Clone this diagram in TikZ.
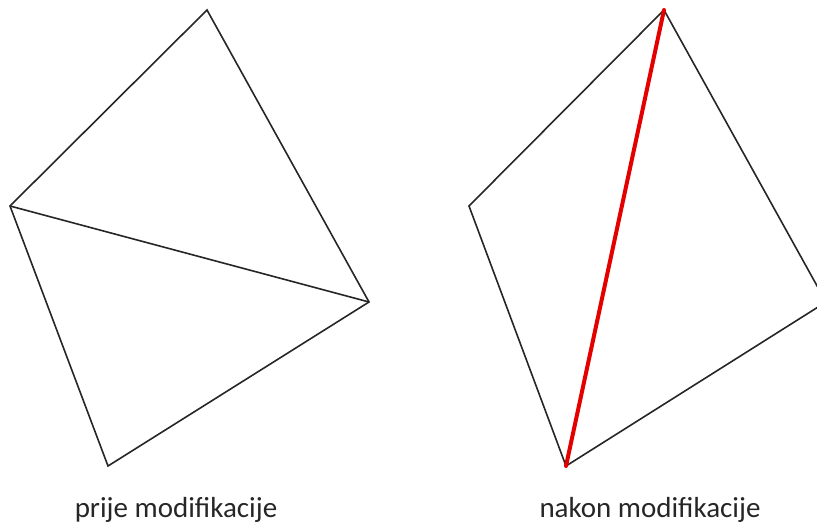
\documentclass[tikz,border=0pt]{standalone}
\usepackage{fontspec}
\setmainfont{Carlito}
\usetikzlibrary{positioning}

\begin{document}
\begin{tikzpicture}[x=1pt, y=-1pt,
  edge/.style={black!85, line width=1.6pt, line join=miter},
  flip/.style={red!90!black, line width=4pt, line cap=round},
  caption/.style={font=\fontsize{29}{31}\selectfont, text=black!85, anchor=base, inner sep=0pt}]
\useasboundingbox (0,0) rectangle (817,524);
\clip (0,0) rectangle (817,524);

% Before: quad with the old diagonal
\coordinate (a1) at (207,10);
\coordinate (b1) at (10,206);
\coordinate (c1) at (108,466);
\coordinate (d1) at (369,302);
\draw[edge] (a1) -- (b1) -- (c1) -- (d1) -- cycle;
\draw[edge] (b1) -- (d1);

% After: same quad, diagonal flipped
\coordinate (a2) at (664,10);
\coordinate (b2) at (469,206);
\coordinate (c2) at (566,466);
\coordinate (d2) at (826,302);
\draw[edge] (a2) -- (b2) -- (c2) -- (d2) -- cycle;
\draw[flip] (a2) -- (c2);

% Captions
\node[caption] (before) at (176,517) {prije modifikacije};
\node[caption] (after) at (650,517) {nakon modifikacije};
\end{tikzpicture}
\end{document}
